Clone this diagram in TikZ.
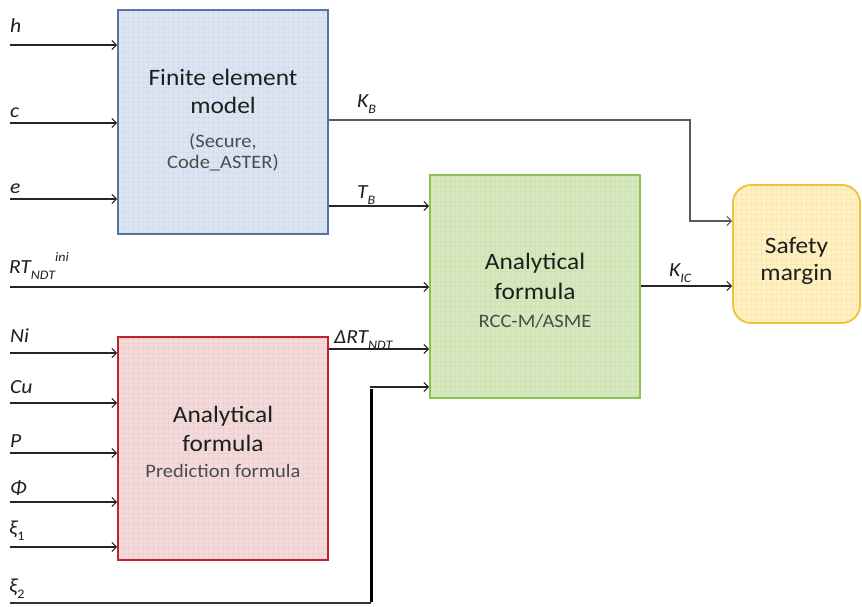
\documentclass[tikz,border=0pt]{standalone}
\usepackage{fontspec}
\setmainfont{Carlito}[FakeStretch=1.08]
\usetikzlibrary{arrows.meta,calc}
\definecolor{bluefill}{HTML}{DCE6F2}
\definecolor{blueline}{HTML}{5573A6}
\definecolor{bluegrid}{HTML}{D3DDEC}
\definecolor{greenfill}{HTML}{D6E8BD}
\definecolor{greenline}{HTML}{8CC452}
\definecolor{greengrid}{HTML}{CEE2B4}
\definecolor{redfill}{HTML}{F4DBDB}
\definecolor{redline}{HTML}{C0232B}
\definecolor{redgrid}{HTML}{EED0D0}
\definecolor{yelfill}{HTML}{FFF1C2}
\definecolor{yelline}{HTML}{F3C03A}
\definecolor{yelgrid}{HTML}{F8E8B4}
\definecolor{txtcol}{HTML}{1E1E1E}
\newcommand\lsub[1]{\raisebox{-0.3em}{\fontsize{13}{13}\selectfont #1}}
\newcommand\lsup[1]{\raisebox{0.6em}{\fontsize{13}{13}\selectfont #1}}
\begin{document}
\begin{tikzpicture}[x=1pt,y=-1pt,
  box/.style={draw, line width=1.8pt, inner sep=0pt},
  gridded/.style={path picture={\draw[#1, line width=0.3pt, step=5pt]
     (path picture bounding box.south west) grid (path picture bounding box.north east);}},
  maintxt/.style={anchor=base, font=\fontsize{23.5}{23.5}\selectfont, text=txtcol, inner sep=0pt},
  subtxt/.style={anchor=base, font=\fontsize{19}{19}\selectfont, text=txtcol!80, inner sep=0pt},
  lbl/.style={anchor=base west, font=\fontsize{20}{20}\selectfont\itshape, text=txtcol, inner sep=0pt},
  arr/.style={line width=1.1pt, draw=black!85, -{Straight Barb[length=4.5pt,width=9pt,line width=1.1pt]}},
  plain/.style={line width=1.1pt, draw=black!85}]
\useasboundingbox (0,0) rectangle (862,606);

% boxes
\node[box, draw=blueline, fill=bluefill, gridded=bluegrid, minimum width=210pt, minimum height=224pt] (fem) at (223,122) {};
\node[box, draw=greenline, fill=greenfill, gridded=greengrid, minimum width=210pt, minimum height=223pt] (anl) at (535,286.5) {};
\node[box, draw=redline, fill=redfill, gridded=redgrid, minimum width=210pt, minimum height=223pt] (pred) at (223,448.5) {};
\node[box, draw=yelline, fill=yelfill, gridded=yelgrid, rounded corners=18pt, minimum width=127pt, minimum height=138pt] (safe) at (796.5,254) {};

% box texts
\node[maintxt] (fem1) at (223,85) {Finite element};
\node[maintxt] (fem2) at (223,113) {model};
\node[subtxt] (fem3) at (223,147) {(Secure,};
\node[subtxt] (fem4) at (223,168) {Code\_ASTER)};
\node[maintxt] (anl1) at (535,269) {Analytical};
\node[maintxt] (anl2) at (535,299) {formula};
\node[subtxt] (anl3) at (535,327) {RCC-M/ASME};
\node[maintxt] (pred1) at (223,422) {Analytical};
\node[maintxt] (pred2) at (223,451) {formula};
\node[subtxt] (pred3) at (223,477) {Prediction formula};
\node[maintxt] (safe1) at (796.5,253) {Safety};
\node[maintxt] (safe2) at (796.5,280) {margin};

% input coordinates
\coordinate (ih) at (10,45);
\coordinate (ic) at (10,123);
\coordinate (ie) at (10,199);
\coordinate (irt) at (10,287);
\coordinate (ini) at (10,353);
\coordinate (icu) at (10,403);
\coordinate (ip) at (10,453);
\coordinate (iphi) at (10,502);
\coordinate (ixi1) at (10,547);
\coordinate (ixi2) at (10,603);
\coordinate (xicorner) at (371,603);
\coordinate (xitop) at (371,387);
\coordinate (kbout) at (328,120);
\coordinate (kbturn) at (690,120);
\coordinate (kbdown) at (690,221);
\coordinate (tbrow) at (0,206);
\coordinate (drtrow) at (0,349);
\coordinate (kicrow) at (0,286);

% input arrows
\draw[arr] (ih) -- (ih -| fem.west);
\draw[arr] (ic) -- (ic -| fem.west);
\draw[arr] (ie) -- (ie -| fem.west);
\draw[arr] (irt) -- (irt -| anl.west);
\draw[arr] (ini) -- (ini -| pred.west);
\draw[arr] (icu) -- (icu -| pred.west);
\draw[arr] (ip) -- (ip -| pred.west);
\draw[arr] (iphi) -- (iphi -| pred.west);
\draw[arr] (ixi1) -- (ixi1 -| pred.west);

% xi2 path
\draw[line width=1.6pt, draw=black!80] (ixi2) -- (xicorner);
\draw[line width=3pt, draw=black] ([yshift=0.8pt]xicorner) -- ([yshift=-1.5pt]xitop);
\draw[arr] ([xshift=-1.5pt]xitop) -- (xitop -| anl.west);

% outputs
\draw[arr, draw=black!65] (kbout -| fem.east) -- (kbturn) -- (kbdown) -- (kbdown -| safe.west);
\draw[arr] (tbrow -| fem.east) -- (tbrow -| anl.west);
\draw[arr] (drtrow -| pred.east) -- (drtrow -| anl.west);
\draw[arr] (kicrow -| anl.east) -- (kicrow -| safe.west);

% labels
\node[lbl] (lh) at (10,32) {h};
\node[lbl] (lc) at (10,117) {c};
\node[lbl] (le) at (10,193) {e};
\node[lbl] (lrt) at (9,273) {RT\lsub{NDT}\lsup{ini}};
\node[lbl] (lni) at (10,342) {Ni};
\node[lbl] (lcu) at (10,393) {Cu};
\node[lbl] (lp) at (10,447) {P};
\node[lbl] (lphi) at (10,494) {Φ};
\node[lbl] (lxi1) at (9,534) {ξ\lsub{\upshape 1}};
\node[lbl] (lxi2) at (9,592) {ξ\lsub{\upshape 2}};
\node[lbl] (lkb) at (357,107) {K\lsub{B}};
\node[lbl] (ltb) at (357,198) {T\lsub{B}};
\node[lbl] (ldrt) at (334,343) {ΔRT\lsub{NDT}};
\node[lbl] (lkic) at (669,276) {K\lsub{IC}};
\end{tikzpicture}
\end{document}
